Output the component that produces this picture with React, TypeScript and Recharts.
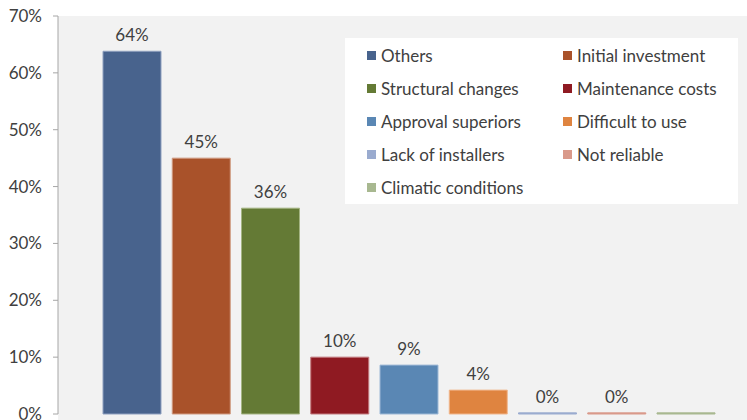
import React from 'react';
import { BarChart, Bar, XAxis, YAxis, LabelList } from 'recharts';

// one category, one series per barrier (as in the original spreadsheet chart)
const seriesNames = [
  'Others',
  'Initial investment',
  'Structural changes',
  'Maintenance costs',
  'Approval superiors',
  'Difficult to use',
  'Lack of installers',
  'Not reliable',
  'Climatic conditions',
];
const seriesValues = [0.638, 0.45, 0.362, 0.1, 0.086, 0.042, 0.002, 0.002, 0.002];
const valueLabels = ['64%', '45%', '36%', '10%', '9%', '4%', '0%', '0%', ''];
const yTicks = [0, 0.1, 0.2, 0.3, 0.4, 0.5, 0.6, 0.7];

const COLORS = ['#48638d', '#a9522a', '#647a35', '#8f1a22', '#5a87b4', '#df8440', '#9aabcf', '#d9998a', '#a8b890'];
const BORDERS = ['#8ea0bf', '#d09a80', '#a4b482', '#c27a7e', '#9db8d6', '#f0b68c', '#9aabcf', '#d9998a', '#a8b890'];

const FONT = 'Lato, "Noto Sans", sans-serif';
const TEXT = '#404040';

const row: Record<string, number | string> = { name: 'all' };
seriesNames.forEach((n, i) => {
  row[n] = seriesValues[i];
});
const data = [row];

export default function App() {
  return (
    <div
      style={{
        position: 'absolute',
        left: 0,
        top: 0,
        width: 747,
        height: 420,
        overflow: 'hidden',
        background: '#ffffff',
        fontFamily: FONT,
      }}
    >
      <div style={{ position: 'absolute', left: 58, top: 16, right: 0, bottom: 0, background: '#f2f2f2' }} />
      <BarChart
        width={759}
        height={420}
        data={data}
        margin={{ top: 16, right: 0, bottom: 6, left: 0 }}
        barSize={58}
        barGap={11.25}
        style={{ position: 'absolute', left: 0, top: 0 }}
      >
        <XAxis dataKey="name" hide />
        <YAxis
          width={58}
          domain={[0, 0.7]}
          ticks={yTicks}
          tickFormatter={(v: number) => `${Math.round(v * 100)}%`}
          tickSize={5}
          tickMargin={11}
          interval={0}
          axisLine={{ stroke: '#a6a6a6' }}
          tickLine={{ stroke: '#a6a6a6' }}
          tick={{ fill: TEXT, fontSize: 17, fontFamily: FONT }}
        />
        {seriesNames.map((n, i) => (
          <Bar key={n} dataKey={n} fill={COLORS[i]} stroke={BORDERS[i]} strokeWidth={1} isAnimationActive={false}>
            <LabelList
              dataKey={n}
              position="top"
              offset={10}
              formatter={() => valueLabels[i]}
              style={{ fill: TEXT, fontSize: 17, fontFamily: FONT }}
            />
          </Bar>
        ))}
      </BarChart>
      <div
        style={{
          position: 'absolute',
          left: 345,
          top: 38,
          width: 393,
          height: 166,
          background: '#ffffff',
        }}
      >
        {seriesNames.map((n, i) => (
          <div
            key={n}
            style={{
              position: 'absolute',
              left: i % 2 === 0 ? 22 : 218,
              top: 6 + Math.floor(i / 2) * 33,
              height: 22,
              display: 'flex',
              alignItems: 'center',
              whiteSpace: 'nowrap',
              fontSize: 17,
              color: TEXT,
            }}
          >
            <span style={{ display: 'inline-block', width: 9, height: 9, background: COLORS[i], marginRight: 5 }} />
            {n}
          </div>
        ))}
      </div>
    </div>
  );
}
